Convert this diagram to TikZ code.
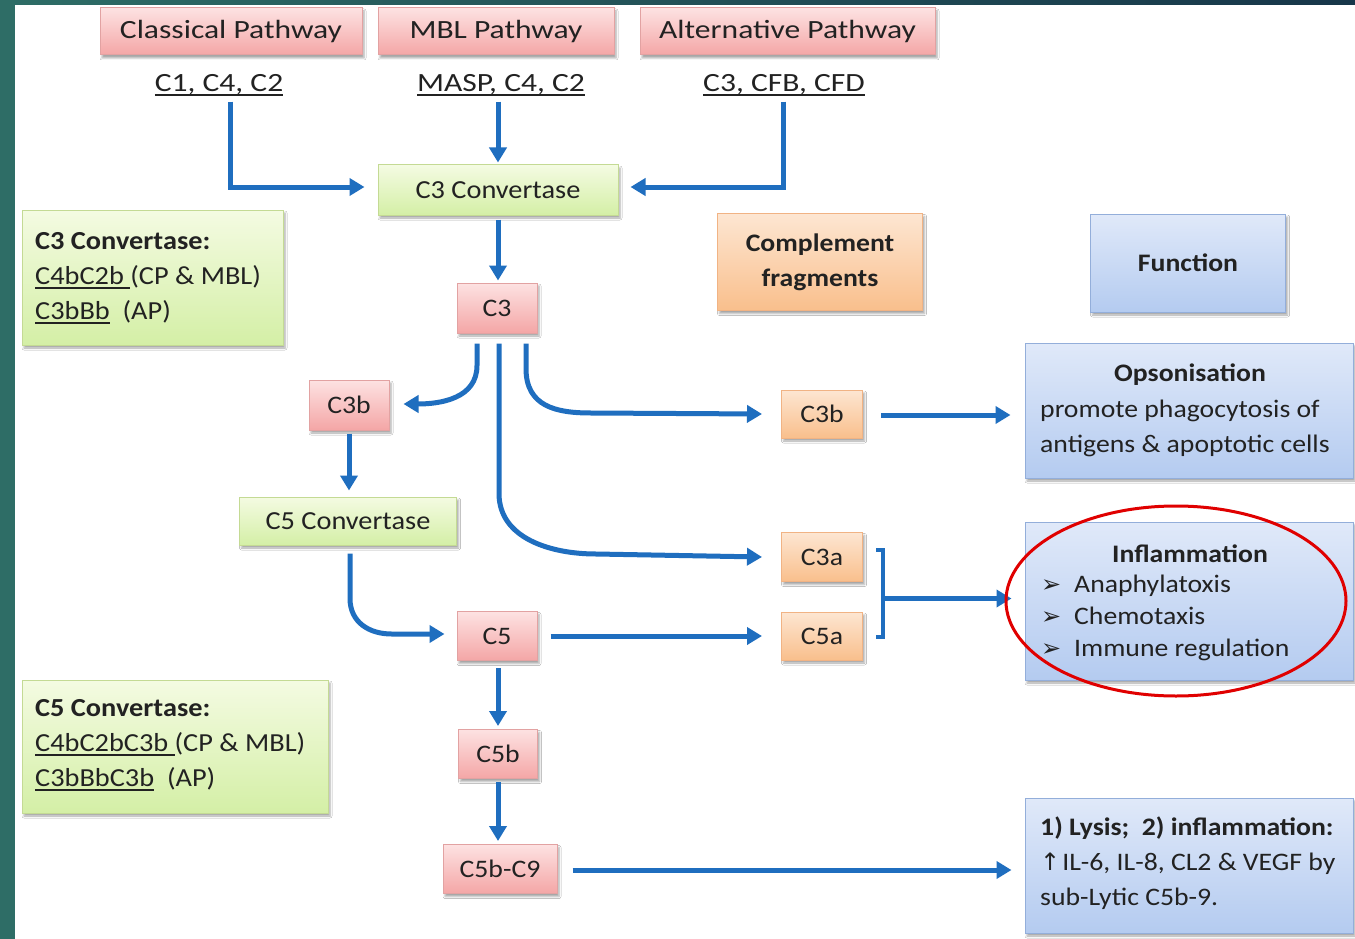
\documentclass[tikz,border=0pt]{standalone}
\usepackage{fontspec}
\setmainfont{Carlito}
\newfontfamily\fA{Carlito}[FakeStretch=1.2]
\newfontfamily\fB{Carlito}[FakeStretch=1.09]
\newfontfamily\fC{Carlito}[FakeStretch=1.1]
\newfontfamily\dejavu{DejaVu Sans}
\usetikzlibrary{arrows.meta,shadows,shadows.blur,calc}
\definecolor{frameteal}{HTML}{2E6D66}
\definecolor{framenavy}{HTML}{173649}
\definecolor{arrowblue}{HTML}{1F6EBF}
\definecolor{pinktop}{HTML}{FDE2E2}
\definecolor{pinkbot}{HTML}{F4A6A6}
\definecolor{pinkline}{HTML}{E2A2A2}
\definecolor{greentop}{HTML}{F4FBE2}
\definecolor{greenbot}{HTML}{D4EFA6}
\definecolor{greenline}{HTML}{C4DA94}
\definecolor{orangetop}{HTML}{FDE6D2}
\definecolor{orangebot}{HTML}{F9BF8C}
\definecolor{orangeline}{HTML}{F1B384}
\definecolor{bluetop}{HTML}{E0E9F9}
\definecolor{bluebot}{HTML}{B4CBF0}
\definecolor{blueline}{HTML}{93AEDA}
\definecolor{txt}{HTML}{222222}
\definecolor{ringred}{HTML}{E00000}
\newcommand\uln[1]{\setbox0\hbox{#1}\rlap{\rule[-4pt]{\wd0}{1.6pt}}\box0}
\newcommand\bul{\makebox[33pt][l]{\dejavu\fontsize{24}{24}\selectfont ➢}}
\begin{document}
\begin{tikzpicture}[x=1pt,y=-1pt,
  boxbase/.style={rectangle, inner sep=0pt, text=txt, line width=1pt,
    blur shadow={shadow xshift=2pt,shadow yshift=-3pt,shadow blur radius=2pt,shadow opacity=35}},
  pinkbox/.style={boxbase, draw=pinkline, top color=pinktop, bottom color=pinkbot},
  greenbox/.style={boxbase, draw=greenline, top color=greentop, bottom color=greenbot},
  orangebox/.style={boxbase, draw=orangeline, top color=orangetop, bottom color=orangebot},
  bluebox/.style={boxbase, draw=blueline, top color=bluetop, bottom color=bluebot},
  fontA/.style={font={\fontsize{26.3}{35}\fA}, text=txt},
  fontB/.style={font={\fontsize{26}{35}\fB}, text=txt},
  fontC/.style={font={\fontsize{25.2}{35}\fC}, text=txt},
  fontCi/.style={font={\fontsize{25.2}{32}\fC}, text=txt},
  plain/.style={inner sep=0pt},
  arr/.style={draw=arrowblue, line width=5pt, -{Triangle[length=15pt,width=17pt]}},
  bracketline/.style={draw=arrowblue, line width=4pt}
]
\useasboundingbox (0,0) rectangle (1355,939);
\fill[white] (0,0) rectangle (1355,939);
\shade[left color=frameteal,right color=framenavy] (0,0) rectangle (1355,5);
\fill[frameteal] (0,0) rectangle (15,939);

% pathway boxes
\node[pinkbox,fontA,minimum width=262,minimum height=47] (cp) at (231,31.5) {Classical Pathway};
\node[pinkbox,fontA,minimum width=236,minimum height=47] (mbl) at (496,31.5) {MBL Pathway};
\node[pinkbox,fontA,minimum width=295,minimum height=47] (ap) at (787.5,31.5) {Alternative Pathway};
\node[plain,fontA] (t1) at (219,85) {\uln{C1, C4, C2}};
\node[plain,fontA] (t2) at (501,85) {\uln{MASP, C4, C2}};
\node[plain,fontA] (t3) at (784,85) {\uln{C3, CFB, CFD}};

% main chain
\node[greenbox,fontB,minimum width=240,minimum height=50] (c3conv) at (498,190) {C3 Convertase};
\node[pinkbox,fontC,minimum width=80,minimum height=50] (c3) at (497,308) {C3};
\node[pinkbox,fontC,minimum width=80,minimum height=50] (c3bL) at (349,405) {C3b};
\node[greenbox,fontB,minimum width=217,minimum height=48] (c5conv) at (348,521) {C5 Convertase};
\node[pinkbox,fontC,minimum width=80,minimum height=49] (c5) at (497,636) {C5};
\node[pinkbox,fontC,minimum width=79,minimum height=49] (c5b) at (498,754) {C5b};
\node[pinkbox,fontC,minimum width=114,minimum height=49] (c5bc9) at (500,869) {C5b-C9};

% fragments
\node[orangebox,fontC,align=center,minimum width=205,minimum height=97] (frag) at (820,262) {\textbf{Complement}\\\textbf{fragments}};
\node[orangebox,fontC,minimum width=81,minimum height=48] (c3bO) at (822,414) {C3b};
\node[orangebox,fontC,minimum width=81,minimum height=49] (c3a) at (822,557) {C3a};
\node[orangebox,fontC,minimum width=81,minimum height=48] (c5a) at (822,636) {C5a};

% function boxes
\node[bluebox,fontC,minimum width=195,minimum height=98] (func) at (1188,263) {\textbf{Function}};
\node[bluebox,minimum width=328,minimum height=135] (opson) at (1189,410.5) {};
\node[bluebox,minimum width=328,minimum height=158] (inflam) at (1189,601) {};
\node[bluebox,minimum width=328,minimum height=135] (lysis) at (1189,865.5) {};
\node[plain,fontC] (topsT) at (1190,375) {\textbf{Opsonisation}};
\node[plain,fontC,align=left,anchor=west] (topsB) at (1040,428.5) {promote phagocytosis of\\antigens \& apoptotic cells};
\node[plain,fontC] (tinfT) at (1190,554) {\textbf{Inflammation}};
\node[plain,fontCi,align=left,anchor=west] (tinfB) at (1041,618) {\bul Anaphylatoxis\\\bul Chemotaxis\\\bul Immune regulation};
\node[plain,fontC,align=left,anchor=west] (tlys) at (1040,863) {\textbf{1) Lysis;\ \ 2) inflammation:}\\{\dejavu\fontsize{24}{24}\selectfont ↑}\hspace{2pt}IL-6, IL-8, CL2 \& VEGF by\\sub-Lytic C5b-9.};

% convertase legend boxes
\node[greenbox,minimum width=261,minimum height=135] (leg3) at (152.5,277.5) {};
\node[plain,fontB,align=left,anchor=west] (leg3t) at (35,278) {\textbf{C3 Convertase:}\\\uln{C4bC2b }(CP \& MBL)\\\uln{C3bBb}\ \ (AP)};
\node[greenbox,minimum width=306,minimum height=133] (leg5) at (175,746.5) {};
\node[plain,fontB,align=left,anchor=west] (leg5t) at (35,745) {\textbf{C5 Convertase:}\\\uln{C4bC2bC3b }(CP \& MBL)\\\uln{C3bBbC3b}\ \ (AP)};

% connectors
\draw[arr] ($(t1.south)+(11,6)$) |- ($(c3conv.west)+(-13,-3)$);
\draw[arr] ($(t2.south)+(-3,6)$) -- ($(c3conv.north)+(0,-2)$);
\draw[arr] ($(t3.south)+(-1,6)$) |- ($(c3conv.east)+(12,-3)$);
\draw[arr] ($(c3conv.south)+(0,4)$) -- ($(c3.north)+(1,-2)$);
\draw[arr] ($(c3.south)+(-20,10)$) -- ++(0,22) .. controls +(0,33) and +(37,0) .. ($(c3bL.east)+(14,-1)$);
\draw[arr] ($(c3.south)+(29,10)$) -- ++(0,25) .. controls +(0,38) and +(-35,0) .. ($(c3bO.west)+(-190,-1)$) -- ($(c3bO.west)+(-19,0)$);
\draw[arr] ($(c3.south)+(2,10)$) -- ++(0,150) .. controls +(0,45) and +(-45,0) .. ($(c3a.west)+(-185,-3)$) -- ($(c3a.west)+(-19,0)$);
\draw[arr] ($(c3bO.east)+(18,1)$) -- ($(c3bO.east -| opson.west)+(-14,1)$);
\draw[arr] ($(c3bL.south)+(0,3)$) -- ($(c5conv.north)+(1,-6)$);
\draw[arr] ($(c5conv.south)+(2,8)$) -- ++(0,45) .. controls +(0,24) and +(-22,0) .. ($(c5.west)+(-65,-2)$) -- ($(c5.west)+(-12,-2)$);
\draw[arr] ($(c5.east)+(13,0)$) -- ($(c5a.west)+(-19,0)$);
\draw[arr] ($(c5.south)+(1,7)$) -- ($(c5b.north)+(0,-3)$);
\draw[arr] ($(c5b.south)+(0,3)$) -- ($(c5bc9.north)+(-2,-3)$);
\draw[arr] ($(c5bc9.east)+(15,1)$) -- ($(c5bc9.east -| lysis.west)+(-13,1)$);
\draw[bracketline] ($(c3a.east)+(13,-7)$) -- ++(7,0) |- ($(c5a.east)+(13,1)$);
\coordinate (brk) at ($(c3a.east)!0.5!(c5a.east)+(20,2)$);
\draw[arr] (brk) -- ($(brk -| inflam.west)+(-13,0)$);

% highlight ring
\draw[ringred, line width=3pt] (1176,601) ellipse [x radius=170pt, y radius=95pt];
\end{tikzpicture}
\end{document}
